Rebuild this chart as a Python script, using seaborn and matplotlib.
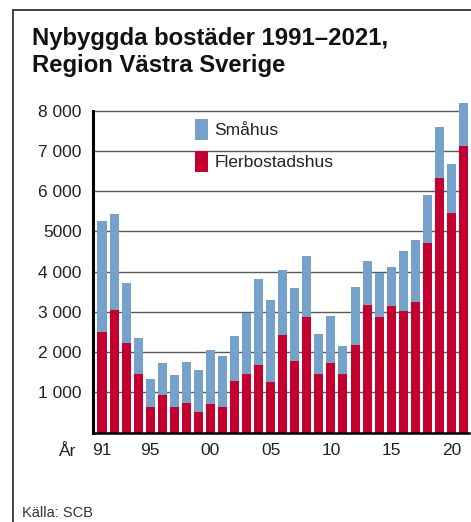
import numpy as np
import pandas as pd
import matplotlib
matplotlib.use("Agg")
import matplotlib.pyplot as plt
from matplotlib.lines import Line2D
from matplotlib.patches import Patch
import seaborn as sns

# ---- data ----
years = list(range(1991, 2022))
flerbostadshus = [2504, 3051, 2230, 1459, 638, 937, 638, 738, 514, 713, 638,
                  1285, 1459, 1683, 1260, 2430, 1783, 2877, 1459, 1730, 1455,
                  2172, 3167, 2869, 3143, 3018, 3242, 4710, 6327, 5456, 7123]
smahus = [2762, 2389, 1493, 896, 697, 796, 796, 1020, 1045, 1343, 1269,
          1120, 1518, 2140, 2040, 1616, 1816, 1518, 995, 1170, 695,
          1443, 1095, 1095, 970, 1493, 1542, 1194, 1268, 1219, 1069]
xtick_pos_years = [1991, 1995, 2000, 2005, 2010, 2015, 2020]
xtick_labels = ["91", "95", "00", "05", "10", "15", "20"]
ytick_vals = [1000, 2000, 3000, 4000, 5000, 6000, 7000, 8000]
ytick_labels = ["1 000", "2 000", "3 000", "4 000", "5000", "6 000", "7 000", "8 000"]
series_names = ["Småhus", "Flerbostadshus"]

BLUE = "#75a1cb"
RED = "#c3002f"

sns.set_theme(style="white")
plt.rcParams["font.family"] = ["Liberation Sans", "DejaVu Sans"]

df = pd.DataFrame({
    "year": [str(y) for y in years],
    "fler": flerbostadshus,
    "total": np.array(flerbostadshus) + np.array(smahus),
})

W, H = 471, 522
fig = plt.figure(figsize=(W / 100, H / 100), dpi=100)
fig.patch.set_facecolor("white")

ax = fig.add_axes([93.3 / W, (H - 432.7) / H, (469 - 93.3) / W, 332.1 / H])
ax.set_facecolor("white")

for y in ytick_vals:
    ax.axhline(y, xmin=0, xmax=0.9726, color="#5a5a5a", lw=1.0, zorder=0)

sns.barplot(data=df, x="year", y="total", color=BLUE, width=0.75,
            saturation=1, ax=ax, zorder=2, edgecolor="none")
sns.barplot(data=df, x="year", y="fler", color=RED, width=0.75,
            saturation=1, ax=ax, zorder=3, edgecolor="none")

ax.set_xlim(-0.722, 30.46)
ax.set_ylim(0, 8250)
ax.set_xlabel("")
ax.set_ylabel("")

ax.set_yticks(ytick_vals)
ax.set_yticklabels(ytick_labels, fontsize=12.5, color="#222222")
pos = [years.index(y) for y in xtick_pos_years]
ax.set_xticks(pos)
ax.set_xticklabels(xtick_labels, fontsize=12.5, color="#222222")
ax.tick_params(axis="both", length=0)
ax.tick_params(axis="y", pad=8.5)
ax.tick_params(axis="x", pad=7.5)

for s in ["top", "right"]:
    ax.spines[s].set_visible(False)
ax.spines["left"].set_bounds(0, 8000)
ax.spines["left"].set_linewidth(2.2)
ax.spines["left"].set_color("black")
ax.spines["bottom"].set_linewidth(1.8)
ax.spines["bottom"].set_color("black")
ax.spines["left"].set_zorder(5)
ax.spines["bottom"].set_zorder(5)

# "År" label
fig.text(68 / W, 1 - 452 / H, "År", fontsize=12.5, color="#222222",
         ha="center", va="center")

# legend
handles = [Patch(facecolor=BLUE, edgecolor="none"),
           Patch(facecolor=RED, edgecolor="none")]
leg = fig.legend(handles, series_names, loc="upper left",
                 bbox_to_anchor=(195 / W, 1 - 119 / H),
                 frameon=False, fontsize=12.5, handlelength=0.73,
                 handleheight=1.44, labelspacing=0.69, handletextpad=0.38,
                 borderpad=0, borderaxespad=0)
for t in leg.get_texts():
    t.set_color("#222222")

# title
fig.text(32 / W, 1 - 45 / H, "Nybyggda bostäder 1991–2021,", fontsize=17.2,
         fontweight="bold", color="#111111", ha="left", va="baseline")
fig.text(32 / W, 1 - 72 / H, "Region Västra Sverige", fontsize=17.2,
         fontweight="bold", color="#111111", ha="left", va="baseline")

# source
fig.text(22 / W, 1 - 520 / H, "Källa: SCB", fontsize=10.5, color="#333333",
         ha="left", va="bottom")

# frame lines
fig.add_artist(Line2D([13 / W, 1], [1 - 10 / H, 1 - 10 / H],
                      transform=fig.transFigure, color="#333333", lw=1.3))
fig.add_artist(Line2D([13 / W, 13 / W], [1 - 10 / H, 0],
                      transform=fig.transFigure, color="#333333", lw=1.3))

fig.savefig("out.png", dpi=100, facecolor="white")
